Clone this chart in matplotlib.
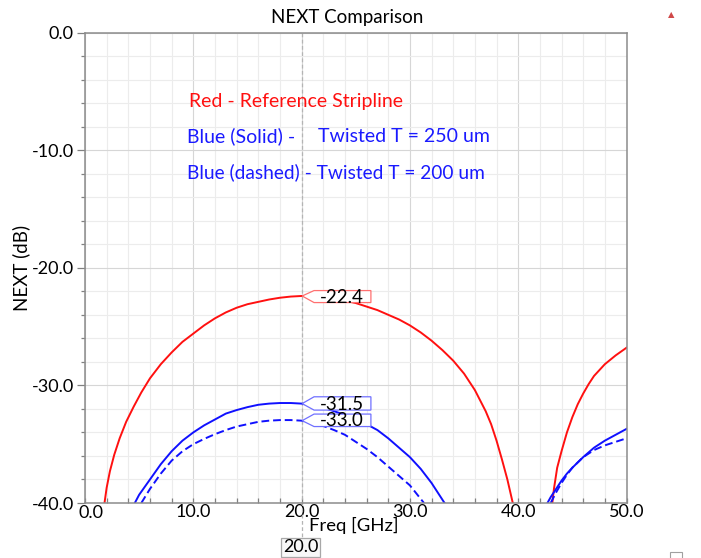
import matplotlib
matplotlib.use("Agg")
import matplotlib.pyplot as plt
from matplotlib.patches import Polygon, Rectangle
from matplotlib.ticker import MultipleLocator

plt.rcParams['font.family'] = ['Lato', 'DejaVu Sans']

# red - reference stripline (two lobes)
red_f1 = [1.8, 2.0, 2.3, 2.7, 3.2, 3.8, 4.5, 5.2, 6.0, 7.0, 8.0, 9.0, 10.0, 11.0, 12.0, 13.0,
          14.0, 15.0, 16.0, 17.0, 18.0, 19.0, 20.0, 21.0, 22.0, 23.0, 24.0, 25.0, 26.0,
          27.0, 28.0, 29.0, 30.0, 31.0, 32.0, 33.0, 34.0, 35.0, 36.0, 37.0, 37.5, 38.0, 38.5,
          39.0, 39.5]
red_v1 = [-40.0, -38.7, -37.3, -35.9, -34.5, -33.1, -31.8, -30.6, -29.4, -28.2, -27.2, -26.3,
          -25.6, -24.9, -24.3, -23.8, -23.4, -23.1, -22.9, -22.7, -22.55, -22.45, -22.4, -22.4,
          -22.45, -22.6, -22.8, -23.0, -23.3, -23.6, -24.0, -24.4, -24.9, -25.5, -26.2, -27.0,
          -27.9, -29.0, -30.4, -32.2, -33.3, -34.7, -36.3, -38.0, -40.0]
red_f2 = [43.15, 43.3, 43.6, 44.0, 44.5, 45.0, 45.5, 46.0, 46.5, 47.0, 48.0, 49.0, 50.0]
red_v2 = [-40.0, -38.8, -37.0, -35.6, -34.0, -32.7, -31.6, -30.7, -29.9, -29.2, -28.2, -27.45,
          -26.8]

# blue solid - twisted T = 250 um
sol_f1 = [4.6, 5.0, 6.0, 7.0, 8.0, 9.0, 10.0, 11.0, 12.0, 13.0, 14.0, 15.0, 16.0, 17.0, 18.0,
          19.0, 20.0, 21.0, 22.0, 23.0, 24.0, 25.0, 26.0, 27.0, 28.0, 29.0, 30.0, 31.0, 32.0, 33.2]
sol_v1 = [-40.0, -39.3, -38.0, -36.7, -35.6, -34.7, -34.0, -33.4, -32.9, -32.4, -32.1, -31.85,
          -31.65, -31.55, -31.5, -31.5, -31.55, -31.7, -31.9, -32.2, -32.5, -32.9, -33.3, -33.8,
          -34.5, -35.3, -36.1, -37.1, -38.3, -40.0]
sol_f2 = [42.7, 43.0, 43.5, 44.0, 44.5, 45.0, 46.0, 47.0, 48.0, 49.0, 50.0]
sol_v2 = [-40.0, -39.5, -38.8, -38.1, -37.5, -37.0, -36.1, -35.3, -34.7, -34.2, -33.7]

# blue dashed - twisted T = 200 um
dsh_f1 = [5.2, 6.0, 7.0, 8.0, 9.0, 10.0, 11.0, 12.0, 13.0, 14.0, 15.0, 16.0, 17.0, 18.0, 19.0,
          20.0, 21.0, 22.0, 23.0, 24.0, 25.0, 26.0, 27.0, 28.0, 29.0, 30.0, 31.3]
dsh_v1 = [-40.0, -38.8, -37.5, -36.4, -35.6, -35.0, -34.55, -34.15, -33.8, -33.5, -33.3, -33.1,
          -33.0, -32.95, -32.95, -33.0, -33.2, -33.45, -33.8, -34.2, -34.8, -35.4, -36.1, -36.9,
          -37.7, -38.5, -40.0]
dsh_f2 = [43.0, 43.5, 44.0, 44.5, 45.0, 46.0, 47.0, 48.0, 49.0, 50.0]
dsh_v2 = [-40.0, -39.1, -38.3, -37.6, -37.0, -36.1, -35.5, -35.1, -34.8, -34.5]

marker_f = 20.0
marker_vals = [-22.4, -31.5, -33.0]
marker_text = ['-22.4', '-31.5', '-33.0']

fig = plt.figure(figsize=(7.01, 5.58), dpi=100)
ax = fig.add_axes([85 / 701, 1 - 503 / 558, 541.5 / 701, 470.5 / 558])

ax.set_xlim(0, 50)
ax.set_ylim(-40, 0)
ax.xaxis.set_major_locator(MultipleLocator(10))
ax.xaxis.set_minor_locator(MultipleLocator(2))
ax.yaxis.set_major_locator(MultipleLocator(10))
ax.yaxis.set_minor_locator(MultipleLocator(2))
# the 0.0 x label is drawn separately, nudged off the corner
ax.xaxis.set_major_formatter(lambda v, p: '' if abs(v) < 1e-9 else f'{v:.1f}')
ax.yaxis.set_major_formatter(lambda v, p: f'{v:.1f}')
ax.grid(which='minor', color='#ececec', lw=0.8)
ax.grid(which='major', color='#d6d6d6', lw=0.8)
ax.set_axisbelow(True)
ax.tick_params(axis='y', which='major', direction='out', length=6, width=0.9, color='#808080',
               labelsize=13, pad=2)
ax.tick_params(axis='y', which='minor', direction='out', length=3, width=0.9, color='#808080')
ax.tick_params(axis='x', which='both', direction='in', length=3.5, width=0.9, color='#808080',
               labelsize=13, pad=1)
for s in ax.spines.values():
    s.set_color('#8c8c8c')
    s.set_linewidth(1.1)
ax.annotate('0.0', xy=(0.55, 0), xycoords=('data', 'axes fraction'), xytext=(0, -1.5),
            textcoords='offset points', ha='center', va='top', fontsize=13)

lw = 1.4
ax.plot(red_f1, red_v1, color='#ff1010', lw=lw)
ax.plot(red_f2, red_v2, color='#ff1010', lw=lw)
ax.plot(sol_f1, sol_v1, color='#1010ff', lw=lw)
ax.plot(sol_f2, sol_v2, color='#1010ff', lw=lw)
ax.plot(dsh_f1, dsh_v1, color='#1010ff', lw=lw, ls=(0, (4, 2)))
ax.plot(dsh_f2, dsh_v2, color='#1010ff', lw=lw, ls=(0, (4, 2)))

# marker line at 20 GHz
ax.plot([marker_f, marker_f], [0, -43.0], color='#b4b4b4', lw=0.9, ls=(0, (3, 2)),
        clip_on=False, zorder=1)
ax.text(marker_f - 0.1, -43.75, '20.0', fontsize=13, ha='center', va='center', clip_on=False,
        bbox=dict(boxstyle='square,pad=0.08', fc='#f8f8f8', ec='#a8a8a8', lw=0.9))

# callout boxes
box_cols = ['#ff7070', '#7070ff', '#7070ff']
box_ylims = [(-21.94, -22.96), (-30.97, -32.1), (-32.44, -33.5)]
tip_vals = [-22.4, -31.55, -33.0]
for val, txt, col, (top, bot), tip in zip(marker_vals, marker_text, box_cols, box_ylims, tip_vals):
    xl, xr = 21.15, 26.4
    poly = Polygon([(20.05, tip), (xl, top), (xr, top), (xr, bot), (xl, bot)], closed=True,
                   fc='white', ec=col, lw=0.9, zorder=5)
    ax.add_patch(poly)
    ax.text(23.75, (top + bot) / 2 - 0.05, txt, fontsize=13.5, ha='center', va='center', zorder=6)

# annotation text
ax.text(9.6, -6.31, 'Red - Reference Stripline', color='#ff1010', fontsize=14, va='baseline')
ax.text(9.42, -9.29, 'Blue (Solid) -', color='#1a1aff', fontsize=14, va='baseline')
ax.text(21.5, -9.29, 'Twisted T = 250 um', color='#1a1aff', fontsize=14, va='baseline')
ax.text(9.42, -12.37, 'Blue (dashed) - Twisted T = 200 um', color='#1a1aff', fontsize=13.8,
        va='baseline')

ax.set_ylabel('NEXT (dB)', fontsize=13.5, labelpad=1)
fig.text(354 / 701, 1 - 525 / 558, 'Freq [GHz]', fontsize=13.3, ha='center', va='center')
fig.text(347 / 701, 1 - 17 / 558, 'NEXT Comparison', fontsize=13.5, ha='center', va='center')

# small decorations at the edges
fig.text(671 / 701, 1 - 15 / 558, '\u25B2', color='#d04848', fontsize=6, ha='center', va='center')
fig.patches.append(Rectangle((670 / 701, -0.01), 12 / 701, 0.02, transform=fig.transFigure,
                             fill=False, ec='#a0a0a0', lw=0.8))

fig.savefig('out.png', dpi=100)
